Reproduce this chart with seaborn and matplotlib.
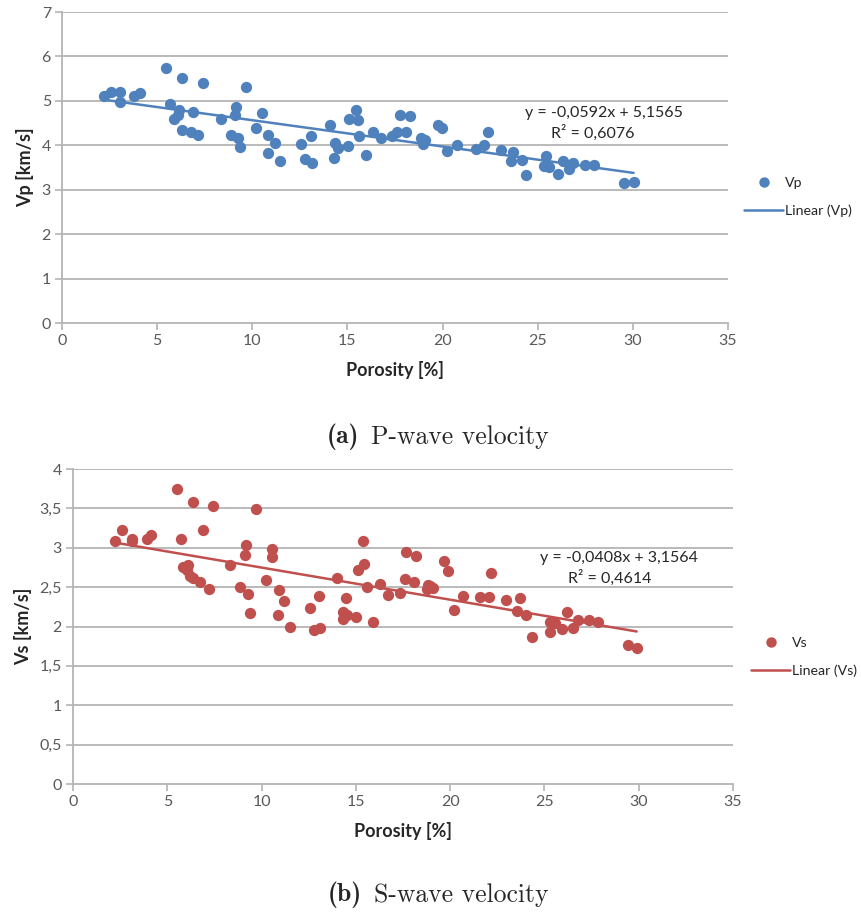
import numpy as np
import pandas as pd
import matplotlib
matplotlib.use("Agg")
import matplotlib.pyplot as plt
from matplotlib.lines import Line2D
from matplotlib.ticker import FuncFormatter
import seaborn as sns

# ---- P-wave data ----
por_p = [2.19, 2.58, 3.07, 3.05, 3.80, 4.10, 5.47, 6.32, 7.42, 5.65, 6.17, 6.09, 5.91,
         6.32, 6.79, 7.14, 6.91, 8.33, 9.16, 9.07, 9.68, 8.86, 9.25, 9.37, 10.53, 10.21,
         10.82, 11.17, 10.82, 11.44, 12.54, 13.07, 12.75, 13.14, 14.07, 14.30, 14.35,
         14.50, 15.04, 15.07, 15.44, 15.53, 15.61, 15.95, 16.35, 16.74, 17.35, 17.58,
         17.75, 18.10, 18.28, 18.86, 19.07, 18.98, 19.77, 19.98, 20.25, 20.77, 21.74,
         22.17, 22.40, 23.05, 23.72, 23.60, 24.16, 24.38, 25.42, 25.35, 25.61, 26.09,
         26.35, 26.65, 26.88, 27.49, 27.98, 29.51, 30.04]
vp = [5.10, 5.21, 5.21, 4.97, 5.12, 5.17, 5.74, 5.51, 5.41, 4.93, 4.80, 4.68, 4.59,
      4.35, 4.31, 4.23, 4.76, 4.59, 4.87, 4.68, 5.32, 4.23, 4.16, 3.96, 4.72, 4.40,
      4.23, 4.06, 3.82, 3.65, 4.03, 4.21, 3.69, 3.61, 4.46, 3.72, 4.06, 3.95,
      3.99, 4.59, 4.80, 4.57, 4.22, 3.78, 4.31, 4.17, 4.20, 4.31,
      4.68, 4.29, 4.65, 4.16, 4.12, 4.04, 4.46, 4.38, 3.87, 4.01, 3.92,
      4.01, 4.31, 3.90, 3.86, 3.65, 3.67, 3.33, 3.75, 3.54, 3.50, 3.35,
      3.65, 3.46, 3.60, 3.56, 3.56, 3.15, 3.17]
vp_slope, vp_intercept, vp_r2 = -0.0592, 5.1565, 0.6076

# ---- S-wave data ----
por_s = [2.23, 2.62, 3.15, 3.12, 3.91, 4.13, 5.51, 6.36, 7.45, 5.72, 6.89, 9.73,
         5.83, 6.10, 6.05, 6.22, 6.36, 6.75, 7.23, 8.35, 8.88, 9.20, 9.11, 9.27, 9.38,
         10.23, 10.56, 10.56, 10.92, 10.87, 11.17, 11.49, 12.59, 13.07, 12.78, 13.10,
         13.99, 14.47, 14.34, 14.52, 14.34, 15.00, 15.39, 15.44, 15.12, 15.58, 15.92,
         16.29, 16.68, 17.34, 17.61, 17.66, 18.19, 18.06, 18.80, 18.95, 18.78, 19.08,
         19.70, 19.91, 20.23, 20.70, 21.60, 22.05, 22.17, 22.97, 23.72, 23.55, 24.04,
         24.36, 25.32, 25.55, 25.28, 25.94, 26.22, 26.52, 26.79, 27.37, 27.85, 29.41,
         29.89]
vs = [3.08, 3.23, 3.11, 3.09, 3.11, 3.16, 3.75, 3.58, 3.53, 3.11, 3.23, 3.49,
      2.75, 2.78, 2.72, 2.64, 2.61, 2.56, 2.48, 2.78, 2.50, 3.03, 2.91, 2.41, 2.17,
      2.59, 2.98, 2.88, 2.46, 2.14, 2.32, 2.00, 2.23, 2.39, 1.95, 1.98,
      2.62, 2.36, 2.19, 2.15, 2.09, 2.12, 3.08, 2.80, 2.72, 2.50, 2.06,
      2.54, 2.40, 2.42, 2.60, 2.94, 2.90, 2.56, 2.53, 2.51, 2.47, 2.49,
      2.83, 2.70, 2.21, 2.39, 2.37, 2.38, 2.68, 2.34, 2.36, 2.20, 2.15,
      1.87, 2.06, 2.04, 1.93, 1.97, 2.19, 1.98, 2.08, 2.08, 2.06, 1.76,
      1.73]
vs_slope, vs_intercept, vs_r2 = -0.0408, 3.1564, 0.4614

x_ticks = [0, 5, 10, 15, 20, 25, 30, 35]

sns.set_theme(style="white")
plt.rcParams["font.family"] = ["Lato", "DejaVu Sans"]

BLUE = "#4F81BD"
RED = "#C0504D"
GRID = "#B4B4B4"
TICKTXT = "#595959"

fig = plt.figure(figsize=(8.62, 9.13), dpi=100)
captions = []


def comma(v, _pos):
    return f"{v:g}".replace(".", ",")


def excel_panel(rect, x, y, slope, intercept, r2, color, name, ymax, ystep,
                ylabel, eq_xy, r2_xy, legend_xy, caption, caption_y):
    ax = fig.add_axes(rect)
    df = pd.DataFrame({"Porosity": x, name: y})
    sns.scatterplot(data=df, x="Porosity", y=name, ax=ax, color=color, s=66,
                    edgecolor=color, linewidth=0, zorder=3, legend=False)
    xs = np.array([min(x), max(x)])
    fit = pd.DataFrame({"Porosity": xs, "fit": slope * xs + intercept})
    sns.lineplot(data=fit, x="Porosity", y="fit", ax=ax, color=color, lw=1.8,
                 zorder=2, legend=False)

    ax.set_xlim(0, 35)
    ax.set_ylim(0, ymax)
    ax.set_xticks(x_ticks)
    ax.set_yticks(np.arange(0, ymax + ystep / 2, ystep))
    ax.yaxis.set_major_formatter(FuncFormatter(comma))
    for yv in np.arange(ystep, ymax + ystep / 2, ystep):
        ax.axhline(yv, color=GRID, lw=1.3, zorder=1)
    for side in ("top", "right"):
        ax.spines[side].set_visible(False)
    for side in ("left", "bottom"):
        ax.spines[side].set_color(GRID)
        ax.spines[side].set_linewidth(1.3)
    ax.tick_params(axis="both", which="major", direction="out", length=5,
                   width=1.2, color=GRID, labelsize=11.5, labelcolor=TICKTXT,
                   bottom=True, left=True, pad=3)
    ax.set_xlabel("Porosity [%]", fontsize=13, fontweight="bold", labelpad=9)
    ax.set_ylabel(ylabel, fontsize=13, fontweight="bold", labelpad=5)

    ax.text(*eq_xy, f"y = {slope:.4f}x + {intercept:.4f}".replace(".", ","),
            fontsize=11.5, color="#262626", ha="center", va="center")
    ax.text(*r2_xy, f"R² = {r2:.4f}".replace(".", ","),
            fontsize=11.5, color="#262626", ha="center", va="center")

    handles = [
        Line2D([], [], marker="o", ls="none", color=color, markersize=7.5,
               markeredgewidth=0, label=name),
        Line2D([], [], color=color, lw=1.8, label=f"Linear ({name})"),
    ]
    fig.legend(handles=handles, loc="center left", bbox_to_anchor=legend_xy,
               frameon=False, fontsize=10.2, handlelength=2.8, handletextpad=0.1,
               labelspacing=1.15, borderpad=0.2, borderaxespad=0.0,
               labelcolor="#262626")

    tag = fig.text(0.5, caption_y, caption[0], fontsize=18.5, family="cmb10",
                   ha="left", va="center")
    body = fig.text(0.5, caption_y, caption[1], fontsize=18.5, family="cmr10",
                    ha="left", va="center")
    captions.append((tag, body))
    return ax


excel_panel([62 / 862, 1 - 323 / 913, 666 / 862, 311 / 913],
            por_p, vp, vp_slope, vp_intercept, vp_r2, BLUE, "Vp", 7, 1,
            "Vp [km/s]", (28.47, 4.73), (27.9, 4.28), (741 / 862, 1 - 197 / 913),
            ("(a)", "P-wave velocity"), 1 - 437 / 913)

excel_panel([73 / 862, 1 - 784 / 913, 660 / 862, 315 / 913],
            por_s, vs, vs_slope, vs_intercept, vs_r2, RED, "Vs", 4, 0.5,
            "Vs [km/s]", (28.97, 2.87), (28.44, 2.62), (748 / 862, 1 - 657 / 913),
            ("(b)", "S-wave velocity"), 1 - 895 / 913)

# centre each "(x) caption" pair horizontally around the same column
fig.canvas.draw()
renderer = fig.canvas.get_renderer()
W = fig.get_size_inches()[0] * fig.dpi
center_px = 438.0
gap_px = 12.0
for tag, body in captions:
    wt = tag.get_window_extent(renderer).width
    wb = body.get_window_extent(renderer).width
    left = center_px - (wt + gap_px + wb) / 2
    tag.set_x(left / W)
    body.set_x((left + wt + gap_px) / W)

fig.savefig("out.png", dpi=100)
